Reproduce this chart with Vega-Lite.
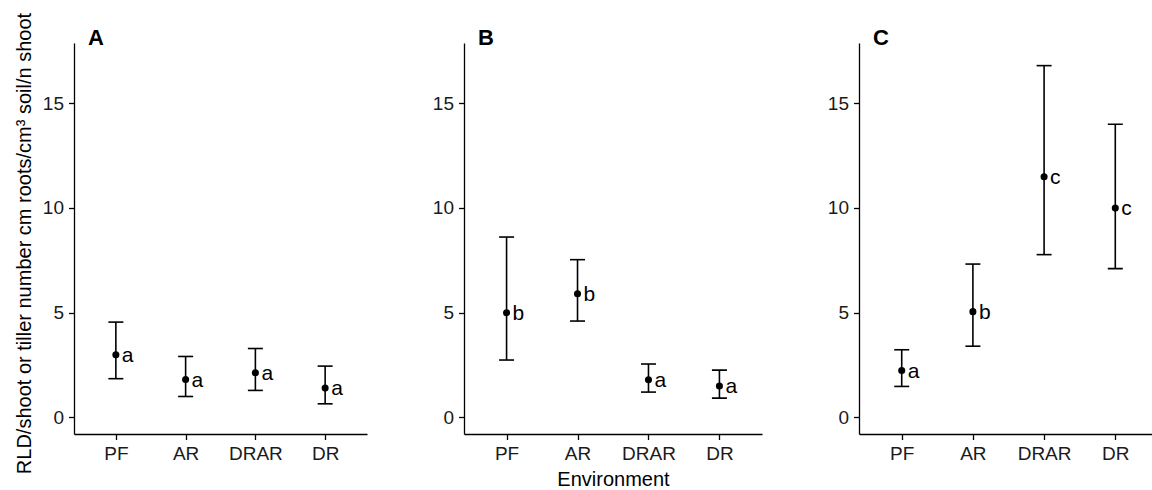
{
  "$schema": "https://vega.github.io/schema/vega-lite/v6.json",
  "padding": {"left": 14, "top": 12, "right": 0, "bottom": 0},
  "background": "white",
  "datasets": {
    "rld": [
      {"panel": "A", "env": "PF", "mean": 2.99, "lower": 1.85, "upper": 4.55, "letter": "a"},
      {"panel": "A", "env": "AR", "mean": 1.81, "lower": 1.0, "upper": 2.91, "letter": "a"},
      {"panel": "A", "env": "DRAR", "mean": 2.13, "lower": 1.29, "upper": 3.29, "letter": "a"},
      {"panel": "A", "env": "DR", "mean": 1.4, "lower": 0.65, "upper": 2.45, "letter": "a"},
      {"panel": "B", "env": "PF", "mean": 5.0, "lower": 2.74, "upper": 8.61, "letter": "b"},
      {"panel": "B", "env": "AR", "mean": 5.9, "lower": 4.6, "upper": 7.53, "letter": "b"},
      {"panel": "B", "env": "DRAR", "mean": 1.8, "lower": 1.21, "upper": 2.55, "letter": "a"},
      {"panel": "B", "env": "DR", "mean": 1.5, "lower": 0.92, "upper": 2.26, "letter": "a"},
      {"panel": "C", "env": "PF", "mean": 2.24, "lower": 1.48, "upper": 3.23, "letter": "a"},
      {"panel": "C", "env": "AR", "mean": 5.05, "lower": 3.4, "upper": 7.32, "letter": "b"},
      {"panel": "C", "env": "DRAR", "mean": 11.49, "lower": 7.77, "upper": 16.79, "letter": "c"},
      {"panel": "C", "env": "DR", "mean": 9.99, "lower": 7.1, "upper": 13.99, "letter": "c"}
    ]
  },
  "data": {"name": "rld"},
  "bounds": "flush",
  "spacing": 97,
  "hconcat": [
    {
      "width": 293, "height": 391,
      "title": {"text": "A", "offset": -38},
      "transform": [{"filter": "datum.panel === 'A'"}],
      "encoding": {
        "x": {"field": "env", "type": "nominal", "sort": ["PF", "AR", "DRAR", "DR"], "scale": {"type": "point", "padding": 0.6}, "axis": {"title": null, "labelAngle": 0}}
      },
      "layer": [
        {"mark": {"type": "rule", "color": "black", "strokeWidth": 1.6},
         "encoding": {"y": {"field": "lower", "type": "quantitative", "scale": {"domain": [-0.79, 17.87], "nice": false, "zero": false}, "axis": {"values": [0, 5, 10, 15], "title": "RLD/shoot or tiller number cm roots/cm³ soil/n shoot", "titleY": 200}}, "y2": {"field": "upper"}}},
        {"mark": {"type": "tick", "color": "black", "size": 15, "thickness": 1.6, "orient": "horizontal", "opacity": 1},
         "encoding": {"y": {"field": "lower", "type": "quantitative"}}},
        {"mark": {"type": "tick", "color": "black", "size": 15, "thickness": 1.6, "orient": "horizontal", "opacity": 1},
         "encoding": {"y": {"field": "upper", "type": "quantitative"}}},
        {"mark": {"type": "point", "filled": true, "color": "black", "size": 50, "opacity": 1},
         "encoding": {"y": {"field": "mean", "type": "quantitative"}}},
        {"mark": {"type": "text", "align": "left", "baseline": "alphabetic", "dx": 6, "dy": 7, "fontSize": 21, "font": "Liberation Sans", "color": "black"},
         "encoding": {"y": {"field": "mean", "type": "quantitative"}, "text": {"field": "letter"}}}
      ]
    },
    {
      "width": 298, "height": 391,
      "title": {"text": "B", "offset": -7},
      "transform": [{"filter": "datum.panel === 'B'"}],
      "encoding": {
        "x": {"field": "env", "type": "nominal", "sort": ["PF", "AR", "DRAR", "DR"], "scale": {"type": "point", "padding": 0.6}, "axis": {"title": "Environment", "labelAngle": 0, "titlePadding": 6}}
      },
      "layer": [
        {"mark": {"type": "rule", "color": "black", "strokeWidth": 1.6},
         "encoding": {"y": {"field": "lower", "type": "quantitative", "scale": {"domain": [-0.79, 17.87], "nice": false, "zero": false}, "axis": {"values": [0, 5, 10, 15], "title": null}}, "y2": {"field": "upper"}}},
        {"mark": {"type": "tick", "color": "black", "size": 15, "thickness": 1.6, "orient": "horizontal", "opacity": 1},
         "encoding": {"y": {"field": "lower", "type": "quantitative"}}},
        {"mark": {"type": "tick", "color": "black", "size": 15, "thickness": 1.6, "orient": "horizontal", "opacity": 1},
         "encoding": {"y": {"field": "upper", "type": "quantitative"}}},
        {"mark": {"type": "point", "filled": true, "color": "black", "size": 50, "opacity": 1},
         "encoding": {"y": {"field": "mean", "type": "quantitative"}}},
        {"mark": {"type": "text", "align": "left", "baseline": "alphabetic", "dx": 6, "dy": 7, "fontSize": 21, "font": "Liberation Sans", "color": "black"},
         "encoding": {"y": {"field": "mean", "type": "quantitative"}, "text": {"field": "letter"}}}
      ]
    },
    {
      "width": 299, "height": 391,
      "title": {"text": "C", "offset": -7},
      "transform": [{"filter": "datum.panel === 'C'"}],
      "encoding": {
        "x": {"field": "env", "type": "nominal", "sort": ["PF", "AR", "DRAR", "DR"], "scale": {"type": "point", "padding": 0.6}, "axis": {"title": null, "labelAngle": 0}}
      },
      "layer": [
        {"mark": {"type": "rule", "color": "black", "strokeWidth": 1.6},
         "encoding": {"y": {"field": "lower", "type": "quantitative", "scale": {"domain": [-0.79, 17.87], "nice": false, "zero": false}, "axis": {"values": [0, 5, 10, 15], "title": null}}, "y2": {"field": "upper"}}},
        {"mark": {"type": "tick", "color": "black", "size": 15, "thickness": 1.6, "orient": "horizontal", "opacity": 1},
         "encoding": {"y": {"field": "lower", "type": "quantitative"}}},
        {"mark": {"type": "tick", "color": "black", "size": 15, "thickness": 1.6, "orient": "horizontal", "opacity": 1},
         "encoding": {"y": {"field": "upper", "type": "quantitative"}}},
        {"mark": {"type": "point", "filled": true, "color": "black", "size": 50, "opacity": 1},
         "encoding": {"y": {"field": "mean", "type": "quantitative"}}},
        {"mark": {"type": "text", "align": "left", "baseline": "alphabetic", "dx": 6, "dy": 7, "fontSize": 21, "font": "Liberation Sans", "color": "black"},
         "encoding": {"y": {"field": "mean", "type": "quantitative"}, "text": {"field": "letter"}}}
      ]
    }
  ],
  "config": {
    "view": {"stroke": null},
    "font": "Liberation Sans",
    "axis": {
      "grid": false,
      "domainColor": "black",
      "domainWidth": 1.3,
      "tickColor": "black",
      "tickWidth": 1.3,
      "tickSize": 5.5,
      "labelFont": "Liberation Sans",
      "labelFontSize": 19,
      "labelColor": "#1a1a1a",
      "labelPadding": 5,
      "titleFont": "Liberation Sans",
      "titleFontSize": 20,
      "titleFontWeight": "normal",
      "titleColor": "black",
      "titlePadding": 8
    },
    "title": {
      "font": "Liberation Sans",
      "fontSize": 22,
      "fontWeight": "bold",
      "anchor": "start",
      "frame": "group",
      "color": "black",
      "dx": 14,
      "baseline": "alphabetic"
    }
  }
}
